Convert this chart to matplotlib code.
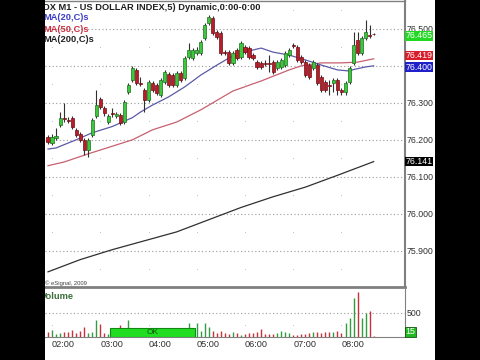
import matplotlib
matplotlib.use("Agg")
import matplotlib.pyplot as plt
from matplotlib.patches import Rectangle

# ---------------- data ----------------
opens = [76.208, 76.192, 76.205, 76.240, 76.259, 76.254, 76.259, 76.227, 76.216, 76.200,
         76.173, 76.213, 76.265, 76.310, 76.286, 76.248, 76.273, 76.265, 76.267, 76.248,
         76.329, 76.362, 76.389, 76.354, 76.335, 76.308, 76.354, 76.348, 76.321, 76.356,
         76.378, 76.375, 76.348, 76.381, 76.367, 76.424, 76.421, 76.435, 76.435, 76.475,
         76.516, 76.529, 76.492, 76.489, 76.437, 76.437, 76.408, 76.443, 76.424, 76.451,
         76.448, 76.429, 76.410, 76.408, 76.408, 76.408, 76.410, 76.394, 76.397, 76.402,
         76.429, 76.456, 76.451, 76.424, 76.410, 76.402, 76.394, 76.402, 76.370, 76.356,
         76.348, 76.354, 76.362, 76.335, 76.329, 76.356, 76.408, 76.470, 76.435, 76.475,
         76.483, 76.486]
closes = [76.194, 76.208, 76.210, 76.259, 76.256, 76.251, 76.235, 76.213, 76.200, 76.173,
          76.200, 76.254, 76.294, 76.289, 76.273, 76.265, 76.270, 76.270, 76.246, 76.302,
          76.348, 76.394, 76.354, 76.351, 76.308, 76.356, 76.335, 76.327, 76.362, 76.383,
          76.348, 76.348, 76.381, 76.362, 76.421, 76.443, 76.443, 76.443, 76.464, 76.510,
          76.532, 76.489, 76.478, 76.435, 76.435, 76.408, 76.435, 76.421, 76.462, 76.437,
          76.424, 76.421, 76.397, 76.397, 76.405, 76.405, 76.383, 76.410, 76.416, 76.435,
          76.443, 76.454, 76.416, 76.410, 76.375, 76.370, 76.410, 76.354, 76.335, 76.335,
          76.346, 76.362, 76.335, 76.329, 76.354, 76.394, 76.456, 76.435, 76.475, 76.492,
          76.481, 76.485]
highs = [76.213, 76.216, 76.232, 76.275, 76.300, 76.262, 76.265, 76.232, 76.221, 76.205,
         76.205, 76.259, 76.335, 76.316, 76.292, 76.270, 76.286, 76.275, 76.273, 76.308,
         76.354, 76.400, 76.394, 76.370, 76.340, 76.362, 76.359, 76.354, 76.367, 76.389,
         76.383, 76.381, 76.386, 76.386, 76.427, 76.462, 76.448, 76.451, 76.470, 76.516,
         76.537, 76.535, 76.497, 76.494, 76.443, 76.443, 76.440, 76.448, 76.467, 76.456,
         76.454, 76.435, 76.416, 76.413, 76.416, 76.429, 76.416, 76.416, 76.421, 76.440,
         76.448, 76.462, 76.456, 76.429, 76.416, 76.408, 76.416, 76.408, 76.375, 76.362,
         76.362, 76.367, 76.367, 76.340, 76.359, 76.400, 76.492, 76.492, 76.481, 76.524,
         76.510, 76.489]
lows = [76.189, 76.186, 76.200, 76.235, 76.248, 76.246, 76.229, 76.208, 76.194, 76.159,
        76.154, 76.208, 76.259, 76.283, 76.265, 76.243, 76.262, 76.259, 76.240, 76.243,
        76.324, 76.356, 76.348, 76.346, 76.275, 76.302, 76.329, 76.321, 76.316, 76.351,
        76.343, 76.343, 76.343, 76.356, 76.362, 76.418, 76.416, 76.429, 76.429, 76.470,
        76.510, 76.483, 76.473, 76.429, 76.429, 76.402, 76.402, 76.416, 76.418, 76.432,
        76.418, 76.416, 76.391, 76.391, 76.400, 76.383, 76.378, 76.389, 76.391, 76.397,
        76.424, 76.448, 76.410, 76.405, 76.370, 76.364, 76.389, 76.348, 76.329, 76.329,
        76.321, 76.329, 76.321, 76.321, 76.321, 76.351, 76.402, 76.429, 76.429, 76.470,
        76.475, 76.483]
volumes = [104, 146, 62, 83, 104, 104, 146, 83, 125, 208,
           83, 104, 354, 270, 83, 62, 104, 125, 250, 167,
           354, 146, 125, 104, 167, 125, 104, 125, 104, 146,
           125, 104, 125, 146, 125, 292, 167, 292, 125, 292,
           208, 125, 83, 125, 83, 62, 104, 83, 42, 62,
           83, 83, 104, 167, 62, 62, 62, 83, 125, 104,
           83, 42, 42, 62, 62, 83, 104, 104, 83, 104,
           104, 104, 125, 83, 292, 396, 812, 938, 396, 500,
           542, 21]

ma20_idx = [0, 2, 7, 11, 16, 21, 23, 26, 30, 34, 38, 42, 45, 48, 53, 56, 60, 64, 68, 72, 75, 76, 79, 81]
ma20_val = [76.175, 76.178, 76.200, 76.219, 76.236, 76.260, 76.275, 76.294, 76.316, 76.343,
            76.375, 76.402, 76.421, 76.435, 76.448, 76.437, 76.429, 76.416, 76.402, 76.389,
            76.386, 76.390, 76.397, 76.400]
ma50_idx = [0, 4, 10, 21, 26, 32, 38, 46, 53, 60, 63, 68, 73, 77, 81]
ma50_val = [76.130, 76.140, 76.162, 76.200, 76.227, 76.248, 76.281, 76.332, 76.359, 76.389,
            76.400, 76.408, 76.408, 76.410, 76.419]
ma200_idx = [0, 8, 16, 24, 32, 40, 48, 56, 64, 72, 81]
ma200_val = [75.843, 75.876, 75.903, 75.927, 75.951, 75.984, 76.017, 76.046, 76.072, 76.104, 76.141]

hour_idx = [1, 13, 25, 37, 49, 61, 73]
hour_labels = ["02:00", "03:00", "04:00", "05:00", "06:00", "07:00", "08:00"]
price_ticks = [75.9, 76.0, 76.1, 76.2, 76.3, 76.4, 76.5]
grid_mid = [75.85, 75.95, 76.05, 76.15, 76.25, 76.35, 76.45, 76.55]
# (text, value it marks, colour, vertical nudge in points so tags don't collide)
tags = [("76.465", closes[-1], "#22d822", -1.0), ("76.419", ma50_val[-1], "#d81e2a", 2.4),
        ("76.400", ma20_val[-1], "#2020c8", -1.0), ("76.141", ma200_val[-1], "#000000", 0.0)]

# ---------------- figure ----------------
W, H = 480, 360
plt.rcParams["font.family"] = ["Liberation Sans", "DejaVu Sans"]
fig = plt.figure(figsize=(W / 100, H / 100), dpi=100, facecolor="black")
fig.patches.append(Rectangle((45 / W, 0), 390 / W, 1, transform=fig.transFigure,
                             facecolor="white", edgecolor="none", zorder=-1))

ax = fig.add_axes([45 / W, (H - 287) / H, 360 / W, 286 / H])
vax = fig.add_axes([45 / W, (H - 337) / H, 360 / W, 48 / H])
for a in (ax, vax):
    a.set_facecolor("white")
    a.set_xlim(-0.75, 88.8)
    for s in a.spines.values():
        s.set_color("#808080")
ax.set_ylim(75.802, 76.5753)
ax.spines["left"].set_visible(False)
ax.spines["bottom"].set_linewidth(2)
ax.spines["right"].set_linewidth(1.5)
ax.spines["top"].set_linewidth(1)

idx = list(range(len(opens)))
up = [c >= o for o, c in zip(opens, closes)]
body_fc = ["#3cc83c" if u else "#b81e2a" for u in up]
body_ec = ["#1e6e1e" if u else "#6e1016" for u in up]

for v in price_ticks:
    ax.axhline(v, color="#9a9a9a", lw=0.8, ls=(0, (1, 2.2)), zorder=0.5)
ax.scatter([h for h in hour_idx for _ in grid_mid], [g for _ in hour_idx for g in grid_mid],
           s=0.6, color="#bdbdbd", zorder=0.6, linewidths=0)

ax.plot(ma200_idx, ma200_val, color="#303030", lw=0.9, zorder=2)
ax.plot(ma50_idx, ma50_val, color="#c86070", lw=0.9, zorder=2)
ax.plot(ma20_idx, ma20_val, color="#5a5aa8", lw=0.9, zorder=2)

ax.vlines(idx, lows, highs, color="#303030", lw=0.8, zorder=3)
ax.bar(idx, [max(abs(c - o), 0.0005) for o, c in zip(opens, closes)],
       bottom=[min(o, c) for o, c in zip(opens, closes)], width=0.78,
       color=body_fc, edgecolor=body_ec, linewidth=0.5, zorder=4)

LBL = 6.3
ax.yaxis.tick_right()
ax.set_yticks(price_ticks)
# the 76.400 tick label sits fully under the blue MA(20) tag, as in the reference
ax.set_yticklabels(["" if abs(v - 76.4) < 1e-9 else f"{v:.3f}" for v in price_ticks])
ax.tick_params(axis="y", length=0, pad=1, labelsize=LBL, colors="#303030")
ax.set_xticks([])

for txt, val, col, dy in tags:
    ax.annotate(txt, xy=(1.002, val), xycoords=ax.get_yaxis_transform(),
                xytext=(0, dy), textcoords="offset points", ha="left", va="center",
                fontsize=LBL, color="white", annotation_clip=False, zorder=10,
                bbox=dict(boxstyle="square,pad=0.03", fc=col, ec="none"))

TF = 6.7
fig.text(43 / W, 1 - 7 / H, "DX M1 - US DOLLAR INDEX,5) Dynamic,0:00-0:00", fontsize=TF,
         color="#202020", weight="bold", va="center", ha="left")
fig.text(43 / W, 1 - 18 / H, "MA(20,C)s", fontsize=TF, color="#3c3cc8", weight="bold", va="center")
fig.text(43 / W, 1 - 29 / H, "MA(50,C)s", fontsize=TF, color="#c83040", weight="bold", va="center")
fig.text(43 / W, 1 - 40 / H, "MA(200,C)s", fontsize=TF, color="#202020", weight="bold", va="center")
fig.text(45 / W, 1 - 283 / H, "\u00a9 eSignal, 2009", fontsize=4.2, color="#404040", va="center")

# volume panel
vax.set_ylim(0, 1000)
vax.spines["left"].set_visible(False)
vax.spines["top"].set_visible(False)
vcol = ["#2e9e3e" if c > o else ("#c8323c" if c < o else "#303030") for o, c in zip(opens, closes)]
vax.axhline(500, color="#9a9a9a", lw=0.8, ls=(0, (1, 2.2)), zorder=0.5)
vax.scatter(hour_idx, [250] * len(hour_idx), s=0.6, color="#bdbdbd", linewidths=0)
vax.vlines(idx, 0, volumes, colors=vcol, lw=1, zorder=3)
vax.yaxis.tick_right()
vax.set_yticks([500])
vax.set_yticklabels(["500"])
vax.tick_params(axis="y", length=0, pad=1, labelsize=LBL, colors="#303030")
vax.set_xticks(hour_idx)
vax.set_xticklabels(hour_labels, ha="left")
vax.tick_params(axis="x", length=0, pad=2, labelsize=6.6, colors="#303030")
vax.add_patch(Rectangle((15.4, 0), 21.2, 190, facecolor="#22dd22", edgecolor="#118811",
                        lw=0.8, zorder=5))
vax.text(26, 95, "OK", ha="center", va="center", fontsize=6, color="#115511", zorder=6)
vax.text(1.002, 15, "15", transform=vax.get_yaxis_transform(), ha="left", va="bottom",
         fontsize=LBL, color="white", clip_on=False, zorder=10,
         bbox=dict(boxstyle="square,pad=0.08", fc="#22b822", ec="#115511", lw=0.6))
vax.text(-0.012, 0.85, "Volume", transform=vax.transAxes, fontsize=TF, color="#3a6e3a",
         weight="bold", va="center", ha="left")

fig.patches.append(Rectangle((0, 0), 45 / W, 1, transform=fig.transFigure,
                             facecolor="black", edgecolor="none", zorder=20))
fig.patches.append(Rectangle((435 / W, 0), 45 / W, 1, transform=fig.transFigure,
                             facecolor="black", edgecolor="none", zorder=20))

fig.savefig("out.png", dpi=100, facecolor="black")
